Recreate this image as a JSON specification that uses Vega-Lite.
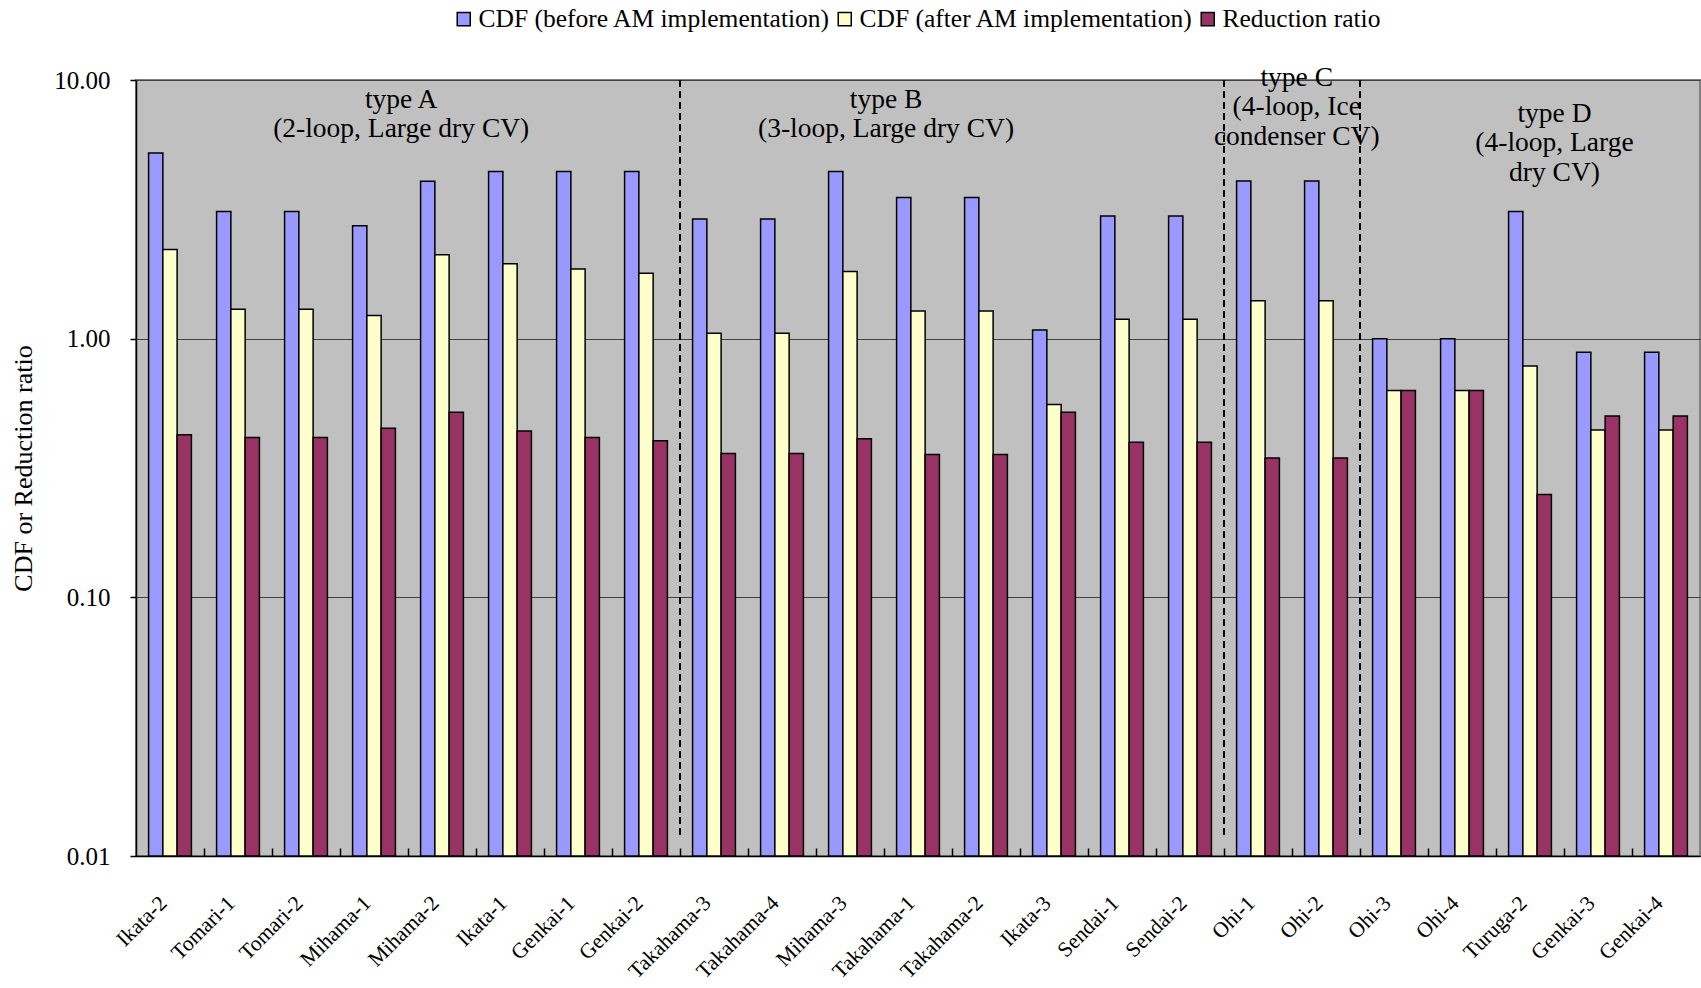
{
  "$schema": "https://vega.github.io/schema/vega-lite/v6.json",
  "width": 1564,
  "height": 776,
  "autosize": "none",
  "padding": {"left": 136, "top": 80, "right": 1, "bottom": 132},
  "background": "white",
  "config": {
    "font": "Liberation Serif",
    "view": {"fill": "#C0C0C0", "stroke": "#808080", "strokeWidth": 2},
    "axis": {
      "labelFont": "Liberation Serif",
      "titleFont": "Liberation Serif",
      "labelColor": "black",
      "titleColor": "black",
      "domainColor": "black",
      "domainWidth": 1.5,
      "tickColor": "black",
      "tickWidth": 1.5
    },
    "legend": {
      "labelFont": "Liberation Serif",
      "labelFontSize": 25.5,
      "labelColor": "black",
      "labelLimit": 0,
      "symbolType": "square",
      "symbolSize": 170,
      "symbolStrokeColor": "black",
      "symbolStrokeWidth": 1.5,
      "symbolOpacity": 1
    }
  },
  "datasets": {
    "cdf": [
      {"plant": "Ikata-2", "series": "CDF (before AM implementation)", "value": 5.22},
      {"plant": "Ikata-2", "series": "CDF (after AM implementation)", "value": 2.21},
      {"plant": "Ikata-2", "series": "Reduction ratio", "value": 0.425},
      {"plant": "Tomari-1", "series": "CDF (before AM implementation)", "value": 3.10},
      {"plant": "Tomari-1", "series": "CDF (after AM implementation)", "value": 1.30},
      {"plant": "Tomari-1", "series": "Reduction ratio", "value": 0.415},
      {"plant": "Tomari-2", "series": "CDF (before AM implementation)", "value": 3.10},
      {"plant": "Tomari-2", "series": "CDF (after AM implementation)", "value": 1.30},
      {"plant": "Tomari-2", "series": "Reduction ratio", "value": 0.415},
      {"plant": "Mihama-1", "series": "CDF (before AM implementation)", "value": 2.73},
      {"plant": "Mihama-1", "series": "CDF (after AM implementation)", "value": 1.23},
      {"plant": "Mihama-1", "series": "Reduction ratio", "value": 0.45},
      {"plant": "Mihama-2", "series": "CDF (before AM implementation)", "value": 4.06},
      {"plant": "Mihama-2", "series": "CDF (after AM implementation)", "value": 2.11},
      {"plant": "Mihama-2", "series": "Reduction ratio", "value": 0.52},
      {"plant": "Ikata-1", "series": "CDF (before AM implementation)", "value": 4.43},
      {"plant": "Ikata-1", "series": "CDF (after AM implementation)", "value": 1.95},
      {"plant": "Ikata-1", "series": "Reduction ratio", "value": 0.44},
      {"plant": "Genkai-1", "series": "CDF (before AM implementation)", "value": 4.43},
      {"plant": "Genkai-1", "series": "CDF (after AM implementation)", "value": 1.86},
      {"plant": "Genkai-1", "series": "Reduction ratio", "value": 0.415},
      {"plant": "Genkai-2", "series": "CDF (before AM implementation)", "value": 4.43},
      {"plant": "Genkai-2", "series": "CDF (after AM implementation)", "value": 1.79},
      {"plant": "Genkai-2", "series": "Reduction ratio", "value": 0.403},
      {"plant": "Takahama-3", "series": "CDF (before AM implementation)", "value": 2.90},
      {"plant": "Takahama-3", "series": "CDF (after AM implementation)", "value": 1.05},
      {"plant": "Takahama-3", "series": "Reduction ratio", "value": 0.36},
      {"plant": "Takahama-4", "series": "CDF (before AM implementation)", "value": 2.90},
      {"plant": "Takahama-4", "series": "CDF (after AM implementation)", "value": 1.05},
      {"plant": "Takahama-4", "series": "Reduction ratio", "value": 0.36},
      {"plant": "Mihama-3", "series": "CDF (before AM implementation)", "value": 4.43},
      {"plant": "Mihama-3", "series": "CDF (after AM implementation)", "value": 1.82},
      {"plant": "Mihama-3", "series": "Reduction ratio", "value": 0.41},
      {"plant": "Takahama-1", "series": "CDF (before AM implementation)", "value": 3.51},
      {"plant": "Takahama-1", "series": "CDF (after AM implementation)", "value": 1.28},
      {"plant": "Takahama-1", "series": "Reduction ratio", "value": 0.357},
      {"plant": "Takahama-2", "series": "CDF (before AM implementation)", "value": 3.51},
      {"plant": "Takahama-2", "series": "CDF (after AM implementation)", "value": 1.28},
      {"plant": "Takahama-2", "series": "Reduction ratio", "value": 0.357},
      {"plant": "Ikata-3", "series": "CDF (before AM implementation)", "value": 1.08},
      {"plant": "Ikata-3", "series": "CDF (after AM implementation)", "value": 0.556},
      {"plant": "Ikata-3", "series": "Reduction ratio", "value": 0.52},
      {"plant": "Sendai-1", "series": "CDF (before AM implementation)", "value": 2.98},
      {"plant": "Sendai-1", "series": "CDF (after AM implementation)", "value": 1.19},
      {"plant": "Sendai-1", "series": "Reduction ratio", "value": 0.398},
      {"plant": "Sendai-2", "series": "CDF (before AM implementation)", "value": 2.98},
      {"plant": "Sendai-2", "series": "CDF (after AM implementation)", "value": 1.19},
      {"plant": "Sendai-2", "series": "Reduction ratio", "value": 0.398},
      {"plant": "Ohi-1", "series": "CDF (before AM implementation)", "value": 4.07},
      {"plant": "Ohi-1", "series": "CDF (after AM implementation)", "value": 1.40},
      {"plant": "Ohi-1", "series": "Reduction ratio", "value": 0.346},
      {"plant": "Ohi-2", "series": "CDF (before AM implementation)", "value": 4.07},
      {"plant": "Ohi-2", "series": "CDF (after AM implementation)", "value": 1.40},
      {"plant": "Ohi-2", "series": "Reduction ratio", "value": 0.346},
      {"plant": "Ohi-3", "series": "CDF (before AM implementation)", "value": 1.00},
      {"plant": "Ohi-3", "series": "CDF (after AM implementation)", "value": 0.63},
      {"plant": "Ohi-3", "series": "Reduction ratio", "value": 0.63},
      {"plant": "Ohi-4", "series": "CDF (before AM implementation)", "value": 1.00},
      {"plant": "Ohi-4", "series": "CDF (after AM implementation)", "value": 0.63},
      {"plant": "Ohi-4", "series": "Reduction ratio", "value": 0.63},
      {"plant": "Turuga-2", "series": "CDF (before AM implementation)", "value": 3.10},
      {"plant": "Turuga-2", "series": "CDF (after AM implementation)", "value": 0.784},
      {"plant": "Turuga-2", "series": "Reduction ratio", "value": 0.25},
      {"plant": "Genkai-3", "series": "CDF (before AM implementation)", "value": 0.887},
      {"plant": "Genkai-3", "series": "CDF (after AM implementation)", "value": 0.444},
      {"plant": "Genkai-3", "series": "Reduction ratio", "value": 0.502},
      {"plant": "Genkai-4", "series": "CDF (before AM implementation)", "value": 0.887},
      {"plant": "Genkai-4", "series": "CDF (after AM implementation)", "value": 0.444},
      {"plant": "Genkai-4", "series": "Reduction ratio", "value": 0.502}
    ],
    "boundaries": [
      {"after_group": "type A", "index": 8},
      {"after_group": "type B", "index": 16},
      {"after_group": "type C", "index": 18}
    ],
    "annotation": [{}]
  },
  "layer": [
    {
      "data": {"name": "cdf"},
      "mark": {"type": "bar", "stroke": "black", "strokeWidth": 1.5, "opacity": 1},
      "encoding": {
        "x": {
          "field": "plant",
          "type": "nominal",
          "sort": null,
          "scale": {"paddingInner": 0.37, "paddingOuter": 0.185},
          "axis": {
            "title": null,
            "labelAngle": -45,
            "labelFontSize": 21.5,
            "labelPadding": 36,
            "labelOffset": -14,
            "ticks": false,
            "labelLimit": 300
          }
        },
        "xOffset": {
          "field": "series",
          "sort": ["CDF (before AM implementation)", "CDF (after AM implementation)", "Reduction ratio"],
          "scale": {"paddingInner": 0, "paddingOuter": 0}
        },
        "y": {
          "field": "value",
          "type": "quantitative",
          "stack": null,
          "scale": {"type": "log", "domain": [0.01, 10], "nice": false},
          "axis": {
            "title": "CDF or Reduction ratio",
            "titleFontSize": 26,
            "titleFontWeight": "normal",
            "titlePadding": 17,
            "values": [0.01, 0.1, 1, 10],
            "format": ".2f",
            "labelFontSize": 25,
            "labelPadding": 20,
            "tickSize": 6,
            "grid": true,
            "gridColor": "#404040",
            "gridWidth": 1.2
          }
        },
        "y2": {"datum": 0.01},
        "color": {
          "field": "series",
          "type": "nominal",
          "sort": ["CDF (before AM implementation)", "CDF (after AM implementation)", "Reduction ratio"],
          "scale": {
            "domain": ["CDF (before AM implementation)", "CDF (after AM implementation)", "Reduction ratio"],
            "range": ["#9999FF", "#FFFFCC", "#993366"]
          },
          "legend": {
            "title": null,
            "orient": "none",
            "direction": "horizontal",
            "legendX": 315,
            "legendY": -74,
            "padding": 0,
            "labelOffset": 2,
            "columnPadding": 1
          }
        }
      }
    },
    {
      "layer": [
        {
          "data": {"name": "boundaries"},
          "mark": {"type": "rule", "stroke": "black", "strokeWidth": 2, "strokeDash": [7, 4]},
          "encoding": {
            "x": {
              "field": "index",
              "type": "quantitative",
              "scale": {"domain": [0, 23], "nice": false, "zero": false},
              "axis": {
                "orient": "bottom",
                "values": [1, 2, 3, 4, 5, 6, 7, 8, 9, 10, 11, 12, 13, 14, 15, 16, 17, 18, 19, 20, 21, 22],
                "offset": -8,
                "tickSize": 8,
                "labels": false,
                "domain": false,
                "grid": false,
                "title": null
              }
            },
            "y": {"datum": 10, "type": "quantitative"},
            "y2": {"datum": 0.0118}
          }
        },
        {
          "data": {"name": "annotation"},
          "mark": {"type": "text", "fontSize": 27.5, "lineHeight": 29.5, "align": "center", "baseline": "middle", "color": "black", "font": "Liberation Serif"},
          "encoding": {
            "x": {"datum": 3.9, "type": "quantitative", "scale": {"domain": [0, 23], "nice": false, "zero": false}},
            "y": {"datum": 8.39, "type": "quantitative"},
            "text": {"value": ["type A", "(2-loop, Large dry CV)"]}
          }
        },
        {
          "data": {"name": "annotation"},
          "mark": {"type": "text", "fontSize": 27.5, "lineHeight": 29.5, "align": "center", "baseline": "middle", "color": "black", "font": "Liberation Serif"},
          "encoding": {
            "x": {"datum": 11.03, "type": "quantitative"},
            "y": {"datum": 8.39, "type": "quantitative"},
            "text": {"value": ["type B", "(3-loop, Large dry CV)"]}
          }
        },
        {
          "data": {"name": "annotation"},
          "mark": {"type": "text", "fontSize": 27.5, "lineHeight": 29.5, "align": "center", "baseline": "middle", "color": "black", "font": "Liberation Serif"},
          "encoding": {
            "x": {"datum": 17.07, "type": "quantitative"},
            "y": {"datum": 10.18, "type": "quantitative"},
            "text": {"value": ["type C", "(4-loop, Ice", "condenser CV)"]}
          }
        },
        {
          "data": {"name": "annotation"},
          "mark": {"type": "text", "fontSize": 27.5, "lineHeight": 29.5, "align": "center", "baseline": "middle", "color": "black", "font": "Liberation Serif"},
          "encoding": {
            "x": {"datum": 20.86, "type": "quantitative"},
            "y": {"datum": 7.4, "type": "quantitative"},
            "text": {"value": ["type D", "(4-loop, Large", "dry CV)"]}
          }
        }
      ]
    }
  ],
  "resolve": {"scale": {"x": "independent"}}
}
